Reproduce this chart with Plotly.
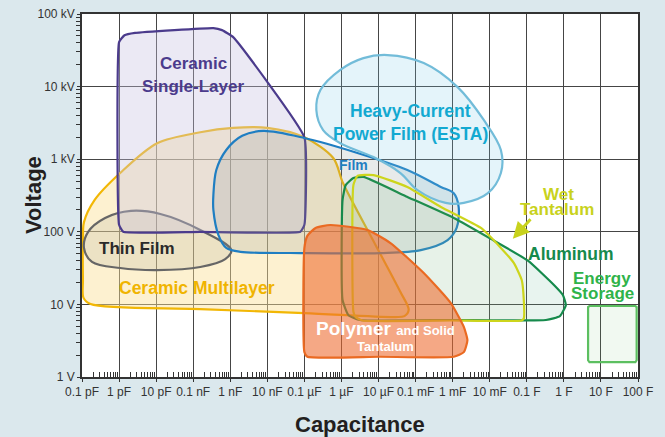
import math
import plotly.graph_objects as go

# ---------------- data (capacitance in F, voltage in V) ----------------
x_tick_vals = [1e-13, 1e-12, 1e-11, 1e-10, 1e-9, 1e-8, 1e-7, 1e-6, 1e-5,
               1e-4, 1e-3, 1e-2, 1e-1, 1e0, 1e1, 1e2]
x_tick_labels = ["0.1 pF", "1 pF", "10 pF", "0.1 nF", "1 nF", "10 nF",
                 "0.1 µF", "1 µF", "10 µF", "0.1 mF", "1 mF", "10 mF",
                 "0.1 F", "1 F", "10 F", "100 F"]
y_tick_vals = [1, 10, 100, 1e3, 1e4, 1e5]
y_tick_labels = ["1 V", "10 V", "100 V", "1 kV", "10 kV", "100 kV"]

multilayer_cap = [1.55e-10, 1.7e-13, 1.1e-13, 1.06e-13, 1.06e-13, 1.13e-13, 2.2e-13,
                  1.07e-12, 1.07e-11, 1.55e-10, 1.2e-9, 1e-8, 1e-7, 6e-7, 1.1e-6,
                  8.3e-6, 3.9e-5, 6.5e-5, 5e-5, 2.9e-5, 1e-7, 1.55e-10]
multilayer_volt = [8.6, 10.1, 12.3, 22, 77, 136, 275,
                   645, 1660, 2350, 2700, 2700, 2000, 1040, 470,
                   66, 14.8, 8.4, 6.9, 6.7, 7.6, 8.6]

thinfilm_cap = [1.07e-11, 1.55e-10, 7.3e-10, 1.07e-9, 1.55e-10, 1.3e-11, 2.1e-12,
                4.2e-13, 1.45e-13, 1.13e-13, 1.86e-13, 1.07e-12, 1.07e-11]
thinfilm_volt = [29.7, 32.7, 42, 56, 106, 176, 194,
                 155, 99, 60, 38.5, 31.7, 29.7]

single_cap = [1.55e-10, 1.3e-12, 1e-12, 1e-12, 1.4e-12, 2.7e-12, 3.5e-10,
              6e-10, 1.2e-9, 1e-7, 1e-7, 7.8e-8, 1.55e-10]
single_volt = [100, 100, 125, 41000, 51000, 55000, 64000,
               60000, 48000, 2000, 125, 100, 100]

film_cap = [7.8e-8, 1.87e-9, 7.8e-10, 4.8e-10, 3.5e-10, 3.5e-10, 4.2e-10, 7.8e-10,
            2.1e-9, 7.8e-9, 1e-7, 2.7e-6, 6e-5, 4.8e-4, 1.07e-3, 1.45e-3,
            1.28e-3, 7.3e-4, 1.38e-4, 1.1e-5, 7.8e-8]
film_volt = [51, 53, 60, 90, 200, 320, 710, 1340,
             2100, 2450, 1960, 1220, 710, 415, 340, 220,
             113, 77, 56, 51, 51]

esta_cap = [1.74e-5, 1.66e-4, 1.36e-3, 6.9e-3, 0.02, 0.02, 8.9e-3, 2e-3, 6.5e-4,
            1.12e-4, 3.9e-5, 7.3e-6, 9.3e-7, 3.2e-7, 2.1e-7, 2.7e-7, 9.3e-7,
            3.9e-6, 1.74e-5]
esta_volt = [27200, 21100, 9850, 3470, 1340, 645, 340, 250, 250,
             375, 645, 1070, 1660, 2520, 4760, 8950, 17000,
             24700, 27200]

alu_cap = [8.9e-4, 3.2e-6, 1.55e-6, 1.07e-6, 1.07e-6, 1.3e-6, 2.1e-6, 3.9e-6,
           5.4e-5, 1.07e-3, 0.0107, 0.107, 0.54, 0.94, 1.13, 0.78, 0.33, 8.9e-4]
alu_volt = [6.1, 6.1, 7.1, 11.5, 275, 440, 550, 570,
            310, 155, 80, 40, 18.5, 13.5, 9.8, 6.9, 6.1, 6.1]

wet_cap = [8.9e-4, 3.7e-6, 2.4e-6, 2.1e-6, 2.1e-6, 2.7e-6, 7.3e-6, 6e-5, 4.8e-4,
           5.8e-3, 0.02, 0.045, 0.073, 0.083, 0.083, 0.073, 8.9e-4]
wet_volt = [6.0, 6.0, 6.7, 7.9, 440, 590, 605, 415, 220,
            113, 60, 37, 21.7, 11.5, 6.4, 6.0, 6.0]

polymer_cap = [1.1e-5, 1.2e-7, 1e-7, 1e-7, 1.2e-7, 2e-7, 5e-7, 5e-6, 2.1e-5,
               1.66e-4, 8.9e-4, 2e-3, 2.5e-3, 2e-3, 1.07e-3, 1.1e-5]
polymer_volt = [1.9, 1.9, 2.2, 60, 88, 113, 124, 106, 70,
                27, 10.4, 4.9, 3.2, 2.2, 1.9, 1.9]

energy_cap = [21, 4.9, 4.5, 4.5, 4.9, 85, 92, 92, 85, 21]
energy_volt = [1.6, 1.6, 1.7, 9.2, 9.5, 9.5, 9.2, 1.7, 1.6, 1.6]

# ---------------- figure ----------------
FONT = "Liberation Sans, Arial, Helvetica, sans-serif"
TICKFONT = "Liberation Sans Narrow, Arial Narrow, Liberation Sans, sans-serif"
fig = go.Figure()


def region(cap, volt, line_color, fill_color, shape="spline", smoothing=1.0, width=2.2):
    fig.add_trace(go.Scatter(
        x=cap, y=volt, mode="lines", fill="toself", fillcolor=fill_color,
        line=dict(color=line_color, width=width, shape=shape,
                  smoothing=smoothing if shape == "spline" else None),
        hoverinfo="skip", showlegend=False))


region(multilayer_cap, multilayer_volt, "#f2b705", "rgba(250,225,150,0.45)", smoothing=0.9)
region(thinfilm_cap, thinfilm_volt, "#666666", "rgba(150,150,135,0.16)", smoothing=1.0)
region(single_cap, single_volt, "#4b3b8c", "rgba(200,195,225,0.36)", smoothing=0.35)
region(film_cap, film_volt, "#1f7ec2", "rgba(140,150,150,0.20)", smoothing=0.9)
region(esta_cap, esta_volt, "#72bcd9", "rgba(120,200,230,0.20)", smoothing=1.0)
region(alu_cap, alu_volt, "#168a4c", "rgba(100,180,150,0.15)", smoothing=0.45)
region(wet_cap, wet_volt, "#cdd51c", "rgba(220,225,120,0.05)", smoothing=0.45)
region(polymer_cap, polymer_volt, "#ea6a22", "rgba(238,105,45,0.58)", smoothing=0.5)
region(energy_cap, energy_volt, "#5cbf60", "rgba(120,200,120,0.10)", shape="linear")

L = math.log10


def label(text, cap, volt, color, size):
    fig.add_annotation(x=L(cap), y=L(volt), xref="x", yref="y", text=text,
                       showarrow=False, xanchor="center", yanchor="middle",
                       font=dict(family=FONT, size=size, color=color, weight="bold"))


label("Ceramic", 1e-10, 20500, "#4b3b8c", 17)
label("Single-Layer", 1e-10, 10000, "#4b3b8c", 17)
label("Thin Film", 3.1e-12, 58, "#2a2a2a", 17)
label("Ceramic Multilayer", 1.3e-10, 16.8, "#f0b400", 17.5)
label("Heavy-Current", 7.3e-5, 4600, "#12a9d1", 17.5)
label("Power Film (ESTA)", 7.3e-5, 2200, "#12a9d1", 17.5)
label("Film", 2.1e-6, 830, "#1f7ec2", 14)
label("Wet", 0.7, 330, "#c8d21c", 17)
label("Tantalum", 0.66, 200, "#c8d21c", 17)
label("Aluminum", 1.55, 49, "#168a4c", 17.5)
label("Energy", 10.7, 23, "#2fb34a", 17)
label("Storage", 10.7, 14.3, "#2fb34a", 17)
label("Polymer <span style='font-size:13px'>and Solid</span>", 1.55e-5, 4.6, "#ffffff", 19)
label("Tantalum", 1.55e-5, 2.67, "#ffffff", 13)

# arrow for Wet Tantalum
fig.add_annotation(x=L(0.042), y=L(80), xref="x", yref="y", text="",
                   showarrow=True, arrowhead=2, arrowsize=1.1, arrowwidth=3,
                   arrowcolor="#c8d21c", ax=19, ay=-21, axref="pixel", ayref="pixel")

# axis titles (paper coordinates)
fig.add_annotation(x=(33 - 82) / 556, y=(437 - 195 - 60) / 363, xref="paper", yref="paper",
                   text="Voltage", showarrow=False, textangle=-90,
                   xanchor="center", yanchor="middle",
                   font=dict(family=FONT, size=22, color="#231f20", weight="bold"))
fig.add_annotation(x=(360 - 82) / 556, y=-(424 - 377) / 363, xref="paper", yref="paper",
                   text="Capacitance", showarrow=False, xanchor="center", yanchor="middle",
                   font=dict(family=FONT, size=22, color="#231f20", weight="bold"))

grid_col = "#454545"
minor_x = [m * 10 ** k for k in range(-13, 2) for m in range(2, 10)]
minor_y = [m * 10 ** k for k in range(0, 5) for m in range(2, 10)]

fig.update_xaxes(type="log", range=[-13, 2], tickvals=x_tick_vals, ticktext=x_tick_labels,
                 showgrid=True, gridcolor=grid_col, gridwidth=1.3,
                 showline=True, linecolor="#333", linewidth=1.5, mirror=True,
                 ticks="outside", ticklen=3, tickcolor="#333",
                 tickfont=dict(family=TICKFONT, size=12, color="#333"),
                 minor=dict(tickvals=minor_x, ticks="inside", ticklen=5, tickcolor="#333",
                            showgrid=False),
                 zeroline=False, fixedrange=True, automargin=False)
fig.update_yaxes(type="log", range=[0, 5], tickvals=y_tick_vals, ticktext=y_tick_labels,
                 showgrid=True, gridcolor=grid_col, gridwidth=1.3,
                 showline=True, linecolor="#333", linewidth=1.5, mirror=True,
                 ticks="outside", ticklen=3, tickcolor="#333",
                 tickfont=dict(family=TICKFONT, size=12, color="#333"),
                 minor=dict(tickvals=minor_y, ticks="outside", ticklen=4, tickcolor="#333",
                            showgrid=False),
                 zeroline=False, fixedrange=True, automargin=False)

fig.update_layout(width=665, height=437, margin=dict(l=82, r=27, t=14, b=60),
                  paper_bgcolor="#dbe8ed", plot_bgcolor="#ffffff",
                  showlegend=False)

fig.write_html("out.html", config={"displayModeBar": False},
               post_script="document.body.style.margin='0';document.body.style.overflow='hidden';")
